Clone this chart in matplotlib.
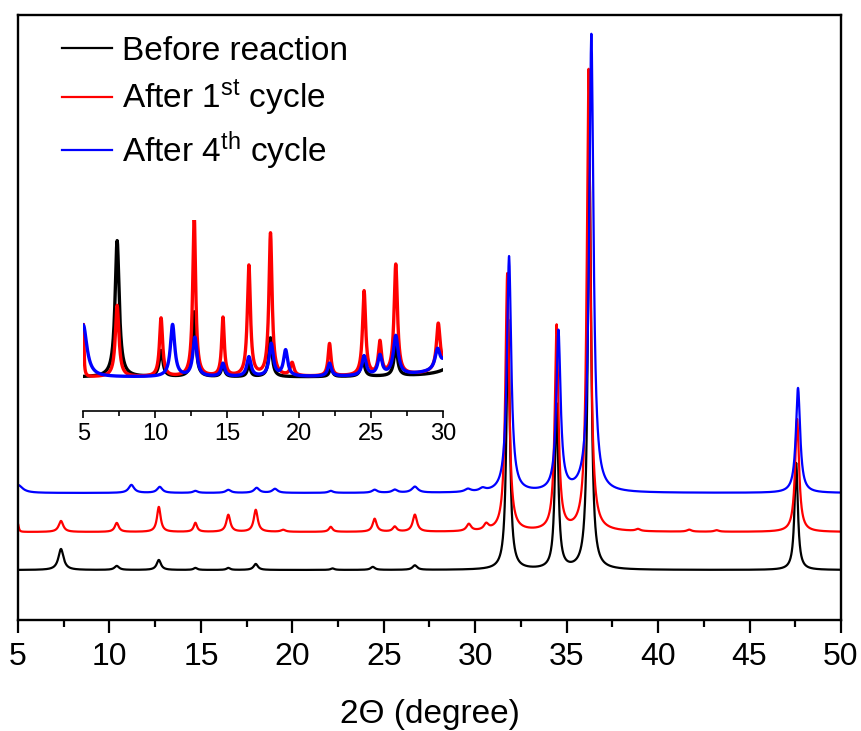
import numpy as np
import matplotlib
matplotlib.use("Agg")
import matplotlib.pyplot as plt
from matplotlib.ticker import MultipleLocator

plt.rcParams['font.family'] = ['Liberation Sans', 'DejaVu Sans']
plt.rcParams['mathtext.fontset'] = 'custom'
plt.rcParams['mathtext.rm'] = 'Liberation Sans'
plt.rcParams['mathtext.it'] = 'Liberation Sans'

# ---------------- data ----------------
labels = ["Before reaction", "After 1$^{\\mathrm{st}}$ cycle", "After 4$^{\\mathrm{th}}$ cycle"]
colors = ["black", "#ff0000", "#0000ff"]

# baselines (intensity, a.u.)
base_before = 50
base_1st = 88
base_4th = 127

# peak positions (2theta), heights above baseline, half widths
pos_before = [7.35, 10.4, 12.7, 14.7, 16.5, 18.0, 22.2, 24.4, 26.7, 31.8, 34.45, 36.25, 47.55]
hgt_before = [21, 4, 10, 2, 2, 6, 1.5, 3, 4.5, 250, 165, 405, 107]
wid_before = [0.17, 0.15, 0.14, 0.12, 0.12, 0.14, 0.12, 0.14, 0.15, 0.11, 0.11, 0.11, 0.11]

pos_1st = [5.0, 7.35, 10.4, 12.7, 14.7, 16.5, 18.0, 19.5, 22.1, 24.5, 25.6, 26.7, 29.65, 30.6,
           31.75, 34.45, 36.2, 38.9, 41.7, 43.2, 47.6]
hgt_1st = [8, 11, 9, 25, 9, 17, 22, 2, 5, 13, 5, 17, 7, 6,
           258, 205, 462, 2, 2, 1.5, 113]
wid_1st = [0.05, 0.15, 0.13, 0.12, 0.11, 0.13, 0.13, 0.15, 0.12, 0.13, 0.13, 0.14, 0.15, 0.15,
           0.12, 0.12, 0.12, 0.15, 0.15, 0.15, 0.13]

pos_4th = [5.0, 11.2, 12.75, 14.7, 16.5, 18.05, 19.05, 22.1, 24.5, 25.6, 26.7, 29.6, 30.4,
           31.85, 34.55, 36.35, 47.65]
hgt_4th = [8, 8, 6, 2, 3, 5, 4, 2, 3, 3, 6, 3, 3,
           236, 160, 458, 105]
wid_4th = [0.3, 0.18, 0.17, 0.15, 0.17, 0.17, 0.17, 0.15, 0.17, 0.17, 0.2, 0.2, 0.2,
           0.14, 0.14, 0.14, 0.14]

main_ticks = [5, 10, 15, 20, 25, 30, 35, 40, 45, 50]
inset_ticks = [5, 10, 15, 20, 25, 30]

# ---------------- drawing ----------------
x = np.arange(5.0, 50.0001, 0.01)


def profile(xx, base, pos, hgt, wid):
    y = np.full_like(xx, float(base))
    for p, h, w in zip(pos, hgt, wid):
        y += h * w * w / ((xx - p) ** 2 + w * w)
    return y


series = [
    (base_before, pos_before, hgt_before, wid_before),
    (base_1st, pos_1st, hgt_1st, wid_1st),
    (base_4th, pos_4th, hgt_4th, wid_4th),
]

W, H = 862, 731
fig = plt.figure(figsize=(W / 100, H / 100), dpi=100)
ax = fig.add_axes([18 / W, 1 - 620 / H, 823 / W, 605 / H])

for (b, p, h, w), c, lab in zip(series, colors, labels):
    ax.plot(x, profile(x, b, p, h, w), color=c, lw=1.6, label=lab)

ax.set_xlim(5, 50)
ax.set_ylim(0, 605)
ax.set_yticks([])
ax.set_xticks(main_ticks)
ax.xaxis.set_minor_locator(MultipleLocator(2.5))
ax.tick_params(axis='x', which='major', direction='out', length=9.5, width=1.6, labelsize=23, pad=6)
ax.tick_params(axis='x', which='minor', direction='out', length=5, width=1.6)
for s in ax.spines.values():
    s.set_linewidth(1.7)
ax.set_xlabel("2\u0398 (degree)", fontsize=24, labelpad=20)

leg = ax.legend(loc='upper left', bbox_to_anchor=(0.037, 0.988), frameon=False, fontsize=24,
                handlelength=1.5, handletextpad=0.3, labelspacing=0.33, borderaxespad=0.0)
for line in leg.get_lines():
    line.set_linewidth(1.6)

# inset
axi = fig.add_axes([83.3 / W, 1 - 411 / H, 360 / W, 191 / H])
x_in = x[x <= 30.0001]
for (b, p, h, w), c in zip(series, colors):
    axi.plot(x_in, profile(x_in, b, p, h, w) - b, color=c, lw=2.4)
axi.set_xlim(5, 30)
axi.set_ylim(-5.2, 24.2)
axi.set_yticks([])
axi.set_xticks(inset_ticks)
axi.xaxis.set_minor_locator(MultipleLocator(2.5))
axi.tick_params(axis='x', which='major', direction='out', length=5, width=1.2, labelsize=17, pad=4)
axi.tick_params(axis='x', which='minor', direction='out', length=3.5, width=1.2)
for k in ['left', 'right', 'top']:
    axi.spines[k].set_visible(False)
axi.spines['bottom'].set_linewidth(1.2)
axi.patch.set_alpha(0)

fig.savefig("out.png", dpi=100)
